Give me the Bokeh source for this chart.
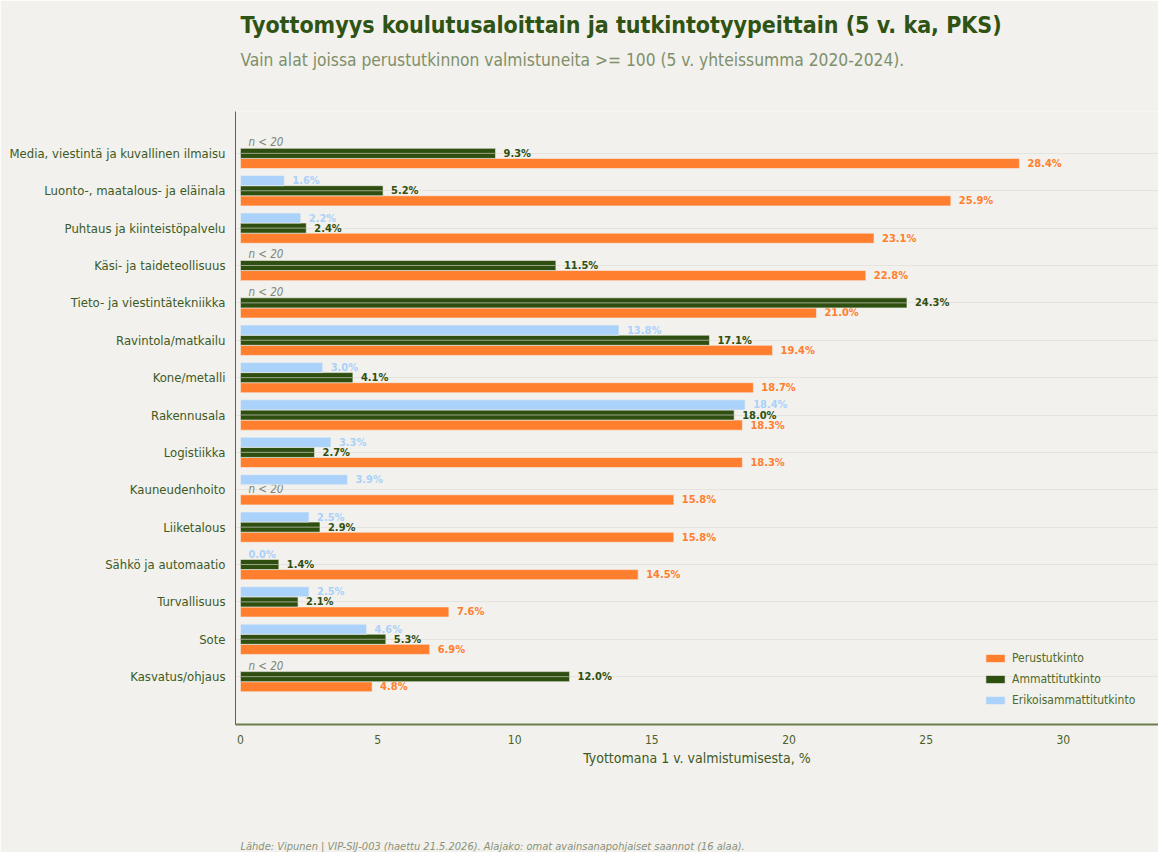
from bokeh.plotting import figure
from bokeh.models import (Range1d, FixedTicker, ColumnDataSource, Title, Legend,
                          LegendItem)
from bokeh.transform import dodge
from bokeh.core.properties import value
from bokeh.embed import file_html
from bokeh.resources import INLINE

# ---------------- data ----------------
categories = [
    "Media, viestintä ja kuvallinen ilmaisu",
    "Luonto-, maatalous- ja eläinala",
    "Puhtaus ja kiinteistöpalvelu",
    "Käsi- ja taideteollisuus",
    "Tieto- ja viestintätekniikka",
    "Ravintola/matkailu",
    "Kone/metalli",
    "Rakennusala",
    "Logistiikka",
    "Kauneudenhoito",
    "Liiketalous",
    "Sähkö ja automaatio",
    "Turvallisuus",
    "Sote",
    "Kasvatus/ohjaus",
]
perustutkinto = [28.4, 25.9, 23.1, 22.8, 21.0, 19.4, 18.7, 18.3, 18.3, 15.8, 15.8, 14.5, 7.6, 6.9, 4.8]
ammattitutkinto = [9.3, 5.2, 2.4, 11.5, 24.3, 17.1, 4.1, 18.0, 2.7, None, 2.9, 1.4, 2.1, 5.3, 12.0]
erikoisammattitutkinto = [None, 1.6, 2.2, None, None, 13.8, 3.0, 18.4, 3.3, 3.9, 2.5, 0.0, 2.5, 4.6, None]
series_names = ["Perustutkinto", "Ammattitutkinto", "Erikoisammattitutkinto"]
x_ticks = [0, 5, 10, 15, 20, 25, 30]

title_text = "Tyottomyys koulutusaloittain ja tutkintotyypeittain (5 v. ka, PKS)"
subtitle_text = "Vain alat joissa perustutkinnon valmistuneita >= 100 (5 v. yhteissumma 2020-2024)."
xlabel_text = "Tyottomana 1 v. valmistumisesta, %"
footer_text = "Lähde: Vipunen | VIP-SIJ-003 (haettu 21.5.2026). Alajako: omat avainsanapohjaiset saannot (16 alaa)."
small_n_text = "n < 20"

# ---------------- style ----------------
FONT = "DejaVu Sans Condensed"
BG = "#f2f1ed"
C_P = "#ff7f2e"
C_A = "#2f4f10"
C_E = "#aad2fa"
C_TITLE = "#2f5312"
C_SUB = "#7f8f6a"
C_AXIS = "#4a6128"
C_GRID = "#e4e3de"
BAR_H = 0.27

n = len(categories)
ypos = [n - 1 - i for i in range(n)]

p = figure(frame_width=923, frame_height=613, output_backend="svg",
           toolbar_location=None,
           x_range=Range1d(-0.18, 33.47), y_range=Range1d(-1.28, 15.12),
           title=None, min_border_left=235, min_border_right=0,
           min_border_top=0, min_border_bottom=0,
           background_fill_color=BG, border_fill_color=BG,
           outline_line_color=None)

def make_source(vals):
    ys = [y for y, v in zip(ypos, vals) if v is not None]
    vs = [v for v in vals if v is not None]
    return ColumnDataSource(dict(y=ys, v=vs, label=["%.1f%%" % v for v in vs]))

def make_missing(vals):
    ys = [y for y, v in zip(ypos, vals) if v is None]
    return ColumnDataSource(dict(y=ys, x=[0] * len(ys), label=[small_n_text] * len(ys)))

series = [
    (perustutkinto, C_P, BAR_H),
    (ammattitutkinto, C_A, 0.0),
    (erikoisammattitutkinto, C_E, -BAR_H),
]

renderers = []
for vals, col, off in series:
    src = make_source(vals)
    yspec = dodge("y", -off, range=p.y_range)
    r = p.hbar(y=yspec, left=0, right="v", height=BAR_H, source=src,
               fill_color=col, line_color=BG, line_width=1, line_alpha=0.6)
    renderers.append(r)
    if col == C_A:
        p.segment(x0=0, y0=yspec, x1="v", y1=yspec, source=src,
                  line_color="#9aa58a", line_width=1)
    p.text(x="v", y=yspec, text="label", source=src, x_offset=8,
           text_baseline="middle", text_align="left",
           text_font=value(FONT), text_font_size="11px",
           text_font_style="bold", text_color=col)
    msrc = make_missing(vals)
    p.text(x="x", y=dodge("y", -off, range=p.y_range), text="label", source=msrc,
           x_offset=8, y_offset=-1, text_baseline="middle", text_align="left",
           text_font=value(FONT), text_font_size="11.5px",
           text_font_style="italic", text_color="#80857a")

# axes
p.yaxis.ticker = FixedTicker(ticks=ypos)
p.yaxis.major_label_overrides = {y: c for y, c in zip(ypos, categories)}
p.yaxis.major_label_text_font = FONT
p.yaxis.major_label_text_font_size = "13px"
p.yaxis.major_label_text_color = "#3e5a1f"
p.yaxis.major_label_standoff = 4
p.yaxis.axis_line_color = "#556b35"
p.yaxis.axis_line_width = 1
p.yaxis.major_tick_line_color = None
p.yaxis.minor_tick_line_color = None

p.xaxis.ticker = FixedTicker(ticks=x_ticks)
p.xaxis.axis_label = xlabel_text
p.xaxis.axis_label_text_font = FONT
p.xaxis.axis_label_text_font_size = "14px"
p.xaxis.axis_label_text_font_style = "normal"
p.xaxis.axis_label_text_color = "#3e5a1f"
p.xaxis.axis_label_standoff = 3
p.xaxis.major_label_text_font = FONT
p.xaxis.major_label_text_font_size = "12px"
p.xaxis.major_label_text_color = C_AXIS
p.xaxis.major_label_standoff = 4
p.xaxis.axis_line_color = "#6b7f4b"
p.xaxis.axis_line_width = 2
p.xaxis.major_tick_line_color = None
p.xaxis.minor_tick_line_color = None

p.xgrid.visible = False
p.ygrid.ticker = FixedTicker(ticks=ypos)
p.ygrid.grid_line_color = C_GRID
p.ygrid.grid_line_width = 1
p.ygrid.level = "underlay"

# titles (stacked outward from the frame: spacer, subtitle, title)
p.add_layout(Title(text=" ", text_font=FONT, text_font_size="1px",
                   text_color=BG, standoff=39), "above")
p.add_layout(Title(text=subtitle_text, text_font=FONT, text_font_size="17.25px",
                   text_font_style="normal", text_color=C_SUB, align="left",
                   offset=5, standoff=0), "above")
p.add_layout(Title(text=title_text, text_font=FONT, text_font_size="23px",
                   text_font_style="bold", text_color=C_TITLE, align="left",
                   offset=5, standoff=19), "above")
# footer (below the x axis: spacer, footer)
p.add_layout(Title(text=" ", text_font=FONT, text_font_size="1px",
                   text_color=BG, standoff=66), "below")
p.add_layout(Title(text=footer_text, text_font=FONT, text_font_size="11px",
                   text_font_style="italic", text_color="#8a9179", align="left",
                   offset=5, standoff=0), "below")

legend = Legend(items=[LegendItem(label=nm, renderers=[r])
                       for nm, r in zip(series_names, renderers)],
                location=(748, 15), background_fill_alpha=0,
                border_line_color=None, glyph_width=24, glyph_height=10,
                label_height=18, spacing=3, padding=6, margin=0,
                label_text_font=FONT, label_text_font_size="12px",
                label_text_color="#4d6a2b")
p.add_layout(legend)

open("out.html", "w").write(file_html(p, INLINE))
